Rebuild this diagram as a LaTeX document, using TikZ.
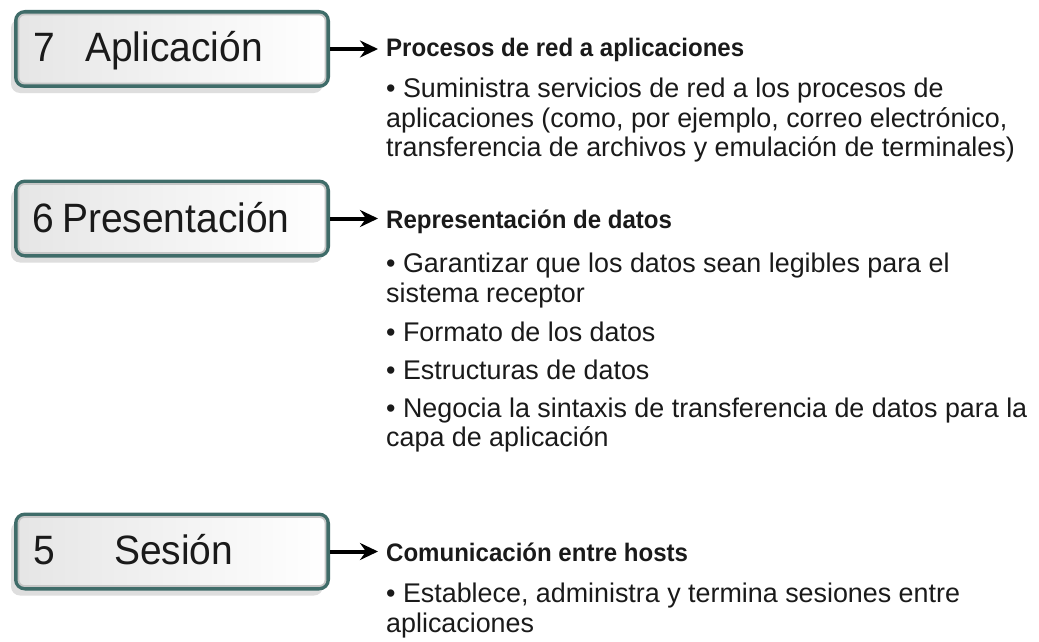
\documentclass[tikz,border=0pt]{standalone}
\usepackage{fontspec}
\setmainfont{Liberation Sans}
\newfontfamily\bodyf[FakeStretch=0.995]{Liberation Sans}
\newfontfamily\titlef[FakeStretch=0.95]{Liberation Sans}
\newfontfamily\labelf[FakeStretch=0.95]{Liberation Sans}
\usetikzlibrary{arrows.meta,shadows}
\definecolor{boxline}{HTML}{3F6C69}
\definecolor{txt}{HTML}{1A1A1A}
\begin{document}
\begin{tikzpicture}[x=1pt,y=-1pt,
  layerbox/.style={draw=boxline, line width=4pt, rounded corners=9pt,
    minimum width=312pt, minimum height=74pt, inner sep=0pt,
    left color=black!10, right color=white,
    drop shadow={shadow xshift=-5pt, shadow yshift=-7pt, fill=black!13, opacity=1}},
  rim/.style={draw=black!22, line width=1.8pt, rounded corners=6pt},
  lab/.style={anchor=base west, inner sep=0pt, text=txt,
    font=\labelf\fontsize{41}{44}\selectfont},
  ttl/.style={anchor=base west, inner sep=0pt, text=txt,
    font=\titlef\bfseries\fontsize{25.3}{28}\selectfont},
  body/.style={anchor=base west, inner sep=0pt, text=txt,
    font=\bodyf\fontsize{27}{30}\selectfont},
  arr/.style={draw=black, line width=4pt, shorten >=8pt,
    -{Stealth[length=18pt,width=17pt,inset=6pt]}}]
\useasboundingbox (0,0) rectangle (1039,642);
\fill[white] (0,0) rectangle (1039,642);

% boxes
\node[layerbox] (b7) at (172,49) {};
\node[layerbox] (b6) at (172,218.5) {};
\node[layerbox] (b5) at (172,551.5) {};
\foreach \b in {b7,b6,b5}{
  \draw[rim] ([shift={(4.5,4.5)}]\b.north west) rectangle ([shift={(-4.5,-4.5)}]\b.south east);
}

% box labels
\node[lab] (n7) at (33,62) {7};
\node[lab] (a7) at (85,62) {Aplicación};
\node[lab] (n6) at (32,232) {6};
\node[lab] (a6) at (62,232) {Presentación};
\node[lab] (n5) at (33,564) {5};
\node[lab] (a5) at (114,564) {Sesión};

% layer 7 text
\node[ttl] (t7) at (386,57) {Procesos de red a aplicaciones};
\node[body] (l7a) at (386,98) {• Suministra servicios de red a los procesos de};
\node[body] (l7b) at (386,127.5) {aplicaciones (como, por ejemplo, correo electrónico,};
\node[body] (l7c) at (386,156.5) {transferencia de archivos y emulación de terminales)};

% layer 6 text
\node[ttl] (t6) at (386,228) {Representación de datos};
\node[body] (l6a) at (386,272) {• Garantizar que los datos sean legibles para el};
\node[body] (l6b) at (386,302) {sistema receptor};
\node[body] (l6c) at (386,341) {• Formato de los datos};
\node[body] (l6d) at (386,379) {• Estructuras de datos};
\node[body] (l6e) at (386,417) {• Negocia la sintaxis de transferencia de datos para la};
\node[body] (l6f) at (386,446) {capa de aplicación};

% layer 5 text
\node[ttl] (t5) at (386,561.5) {Comunicación entre hosts};
\node[body] (l5a) at (386,602) {• Establece, administra y termina sesiones entre};
\node[body] (l5b) at (386,632) {aplicaciones};

% arrows
\draw[arr] (b7.east) -- (b7.east -| t7.west);
\draw[arr] (b6.east) -- (b6.east -| t6.west);
\draw[arr] (b5.east) -- (b5.east -| t5.west);
\end{tikzpicture}
\end{document}
